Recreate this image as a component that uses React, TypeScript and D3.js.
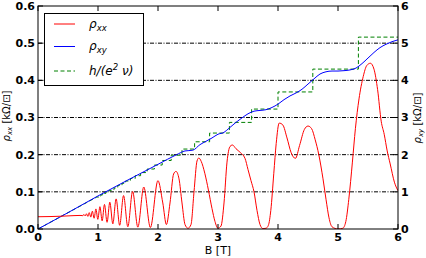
import React from "react";
import * as d3 from "d3";

// rho_xx [kOhm/sq] vs B [T]
const rxxB = [0, 0.2, 0.4, 0.6, 0.7, 0.747, 0.767, 0.787, 0.808, 0.831, 0.854, 0.88, 0.906, 0.935, 0.965, 0.997, 1.032, 1.069, 1.108, 1.151, 1.197, 1.247, 1.302, 1.361, 1.426, 1.497, 1.577, 1.664, 1.763, 1.873, 1.999, 2.08, 2.14, 2.2, 2.26, 2.3, 2.35, 2.4, 2.45, 2.5, 2.55, 2.6, 2.65, 2.68, 2.72, 2.78, 2.84, 2.9, 2.95, 3.0, 3.05, 3.1, 3.15, 3.2, 3.24, 3.3, 3.37, 3.45, 3.5, 3.55, 3.6, 3.65, 3.7, 3.75, 3.8, 3.84, 3.88, 3.93, 3.97, 4.02, 4.08, 4.15, 4.22, 4.29, 4.36, 4.44, 4.5, 4.56, 4.62, 4.68, 4.75, 4.8, 4.85, 4.9, 5.0, 5.08, 5.13, 5.18, 5.24, 5.29, 5.35, 5.42, 5.48, 5.54, 5.6, 5.66, 5.72, 5.77, 5.82, 5.87, 5.94, 6.0];
const rxxV = [0.033, 0.0335, 0.0345, 0.036, 0.0365, 0.036, 0.039, 0.035, 0.041, 0.034, 0.044, 0.032, 0.048, 0.029, 0.054, 0.026, 0.06, 0.022, 0.066, 0.018, 0.072, 0.014, 0.081, 0.01, 0.09, 0.006, 0.101, 0.005, 0.113, 0.004, 0.13, 0.07, 0.012, 0.07, 0.148, 0.155, 0.135, 0.07, 0.012, 0.002, 0.012, 0.1, 0.183, 0.191, 0.182, 0.15, 0.105, 0.055, 0.02, 0.002, 0.008, 0.07, 0.18, 0.222, 0.226, 0.216, 0.206, 0.19, 0.16, 0.13, 0.1, 0.05, 0.012, 0.001, 0.002, 0.01, 0.05, 0.15, 0.23, 0.285, 0.28, 0.245, 0.205, 0.19, 0.225, 0.268, 0.277, 0.27, 0.24, 0.2, 0.135, 0.08, 0.03, 0.006, 0.0, 0.002, 0.02, 0.08, 0.18, 0.27, 0.35, 0.41, 0.44, 0.446, 0.43, 0.375, 0.29, 0.255, 0.21, 0.175, 0.126, 0.103];

// rho_xy [kOhm] vs B [T]
const rxyB = [0, 0.5, 1.0, 1.5, 2.0, 2.31, 2.45, 2.58, 2.7, 2.8, 2.9, 3.0, 3.1, 3.19, 3.3, 3.4, 3.5, 3.6, 3.7, 3.8, 3.9, 4.0, 4.1, 4.2, 4.3, 4.4, 4.5, 4.6, 4.7, 4.8, 4.9, 5.0, 5.1, 5.2, 5.3, 5.4, 5.5, 5.6, 5.7, 5.8, 5.9, 6.0];
const rxyV = [0, 0.44, 0.89, 1.32, 1.74, 2.0, 2.1, 2.12, 2.27, 2.36, 2.45, 2.55, 2.6, 2.72, 2.87, 2.99, 3.1, 3.17, 3.19, 3.21, 3.27, 3.36, 3.48, 3.58, 3.66, 3.76, 3.9, 4.04, 4.17, 4.23, 4.25, 4.25, 4.26, 4.28, 4.33, 4.45, 4.6, 4.75, 4.88, 4.97, 5.04, 5.09];

// h/(e^2 nu) plateaus: filling factor and field where each plateau starts
const nuList = [30, 29, 28, 27, 26, 25, 24, 23, 22, 21, 20, 19, 18, 17, 16, 15, 14, 13, 12, 11, 10, 9, 8, 7, 6, 5];
const nuStartB = [0.98, 1.02, 1.05, 1.09, 1.13, 1.18, 1.22, 1.28, 1.33, 1.40, 1.46, 1.54, 1.62, 1.71, 1.82, 1.94, 2.07, 2.22, 2.40, 2.61, 2.86, 3.19, 3.56, 4.0, 4.58, 5.34];
const hOverE2 = 25.813; // kOhm

const xTicks = [0, 1, 2, 3, 4, 5, 6];
const yLeftTicks = [0, 0.1, 0.2, 0.3, 0.4, 0.5, 0.6];
const yRightTicks = [0, 1, 2, 3, 4, 5, 6];
const gridVals = [0.1, 0.2, 0.3, 0.4, 0.5];

const W = 426, H = 258;
const L = 38, R = 398, T = 6, B = 229;

export default function App() {
  const x = d3.scaleLinear().domain([0, 6]).range([L, R]);
  const yL = d3.scaleLinear().domain([0, 0.6]).range([B, T]);
  const yR = d3.scaleLinear().domain([0, 6]).range([B, T]);

  const rxx = rxxB.map((b, i) => [b, rxxV[i]] as [number, number]);
  const rxy = rxyB.map((b, i) => [b, rxyV[i]] as [number, number]);
  const stair: [number, number][] = [[0, 0]];
  nuList.forEach((nu, i) => {
    const v = hOverE2 / nu;
    const b0 = nuStartB[i];
    const b1 = i + 1 < nuList.length ? nuStartB[i + 1] : 6;
    stair.push([b0, v]);
    stair.push([b1, v]);
  });

  const lineL = d3.line<[number, number]>().x(d => x(d[0])).y(d => yL(d[1])).curve(d3.curveMonotoneX);
  const lineR = d3.line<[number, number]>().x(d => x(d[0])).y(d => yR(d[1])).curve(d3.curveMonotoneX);
  const lineStair = d3.line<[number, number]>().x(d => x(d[0])).y(d => yR(d[1]));

  const tickFont = { fontFamily: "DejaVu Sans", fontWeight: "bold" as const, fontSize: 11 };
  const fmtL = d3.format(".1f");

  return (
    <div style={{ position: "fixed", left: 0, top: 0 }}>
      <svg width={W} height={H} style={{ display: "block", background: "#fff" }}>
        <defs>
          <clipPath id="plot">
            <rect x={L} y={T} width={R - L} height={B - T} />
          </clipPath>
        </defs>
        <rect x={0} y={0} width={W} height={H} fill="#fff" />
        {gridVals.map(g => (
          <line key={g} x1={L} x2={R} y1={yL(g)} y2={yL(g)} stroke="#000" strokeWidth={1} strokeDasharray="4,1.5,1,1.5" />
        ))}
        <g clipPath="url(#plot)">
          <path d={lineStair(stair) || ""} fill="none" stroke="#008000" strokeWidth={1} strokeDasharray="4,2.5" />
          <path d={lineR(rxy) || ""} fill="none" stroke="#0000ff" strokeWidth={1} />
          <path d={lineL(rxx) || ""} fill="none" stroke="#ff0000" strokeWidth={1} />
        </g>
        <rect x={L} y={T} width={R - L} height={B - T} fill="none" stroke="#000" strokeWidth={1} />
        {xTicks.map(t => (
          <g key={"x" + t}>
            <line x1={x(t)} x2={x(t)} y1={B} y2={B - 5} stroke="#000" />
            <line x1={x(t)} x2={x(t)} y1={T} y2={T + 5} stroke="#000" />
            <text x={x(t)} y={241} textAnchor="middle" {...tickFont}>{t}</text>
          </g>
        ))}
        {yLeftTicks.map(t => (
          <g key={"yl" + t}>
            <line x1={L} x2={L + 5} y1={yL(t)} y2={yL(t)} stroke="#000" />
            <text x={35} y={yL(t)} dy="0.36em" textAnchor="end" {...tickFont}>{fmtL(t)}</text>
          </g>
        ))}
        {yRightTicks.map(t => (
          <g key={"yr" + t}>
            <line x1={R - 5} x2={R} y1={yR(t)} y2={yR(t)} stroke="#000" />
            <text x={401} y={yR(t)} dy="0.36em" textAnchor="start" {...tickFont}>{t}</text>
          </g>
        ))}
        <text x={218} y={254} textAnchor="middle" fontFamily="DejaVu Sans" fontSize={11}>B [T]</text>
        <text transform="translate(9.5,116) rotate(-90)" textAnchor="middle" fontFamily="DejaVu Sans" fontSize={10}>
          <tspan fontStyle="italic">ρ</tspan>
          <tspan fontStyle="italic" fontSize={7} dy={2}>xx</tspan>
          <tspan dy={-2}> [kΩ/⊡]</tspan>
        </text>
        <text transform="translate(420.5,118) rotate(-90)" textAnchor="middle" fontFamily="DejaVu Sans" fontSize={10}>
          <tspan fontStyle="italic">ρ</tspan>
          <tspan fontStyle="italic" fontSize={7} dy={2}>xy</tspan>
          <tspan dy={-2}> [kΩ/⊡]</tspan>
        </text>
        <g>
          <rect x={44.5} y={13.5} width={99} height={72} fill="#fff" stroke="#000" strokeWidth={1} />
          <line x1={54} x2={75} y1={24} y2={24} stroke="#ff0000" />
          <line x1={54} x2={75} y1={46.5} y2={46.5} stroke="#0000ff" />
          <line x1={54} x2={75} y1={71} y2={71} stroke="#008000" strokeDasharray="4,2.5" />
          <text x={89} y={28} fontFamily="DejaVu Sans" fontSize={12} fontStyle="italic">
            ρ<tspan fontSize={8.5} dy={3}>xx</tspan>
          </text>
          <text x={89} y={50} fontFamily="DejaVu Sans" fontSize={12} fontStyle="italic">
            ρ<tspan fontSize={8.5} dy={3}>xy</tspan>
          </text>
          <text x={89} y={75} fontFamily="DejaVu Sans" fontSize={12} fontStyle="italic">
            h/(e<tspan fontSize={8.5} dy={-5}>2</tspan><tspan dy={5}> ν)</tspan>
          </text>
        </g>
      </svg>
    </div>
  );
}
